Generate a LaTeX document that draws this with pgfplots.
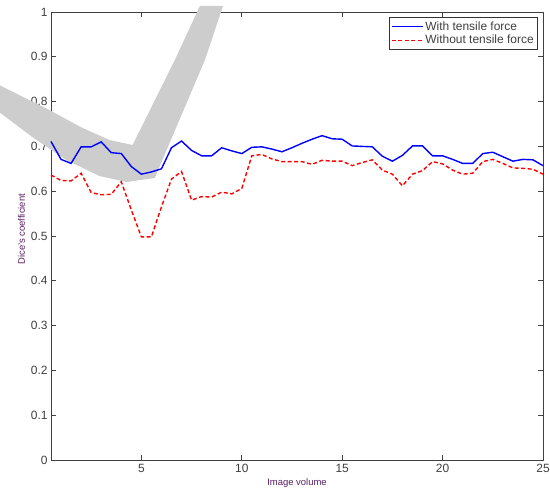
\documentclass[border=0pt]{standalone}
\usepackage{fontspec}
\setmainfont{Liberation Sans}
\usepackage{pgfplots}
\pgfplotsset{compat=1.18}
\usepackage{pgfplotstable}
\definecolor{lblcol}{RGB}{90,30,100}
\definecolor{tickcol}{RGB}{64,64,64}
\definecolor{wm}{RGB}{205,205,205}

\pgfplotstableread{
x y
0.5 0.711
1.0 0.671
1.5 0.662
2.0 0.699
2.5 0.699
3.0 0.710
3.5 0.686
4.0 0.684
4.5 0.655
5.0 0.638
5.5 0.643
6.0 0.650
6.5 0.697
7.0 0.712
7.5 0.691
8.0 0.679
8.5 0.679
9.0 0.697
9.5 0.690
10.0 0.684
10.5 0.698
11.0 0.699
11.5 0.694
12.0 0.688
12.5 0.697
13.0 0.707
13.5 0.716
14.0 0.724
14.5 0.717
15.0 0.716
15.5 0.701
16.0 0.700
16.5 0.699
17.0 0.678
17.5 0.667
18.0 0.680
18.5 0.701
19.0 0.701
19.5 0.679
20.0 0.679
20.5 0.671
21.0 0.662
21.5 0.662
22.0 0.684
22.5 0.687
23.0 0.677
23.5 0.667
24.0 0.671
24.5 0.670
25.0 0.657
}\withforce

\pgfplotstableread{
x y
0.5 0.636
1.0 0.624
1.5 0.623
2.0 0.640
2.5 0.597
3.0 0.592
3.5 0.593
4.0 0.621
4.5 0.558
5.0 0.498
5.5 0.498
6.0 0.565
6.5 0.627
7.0 0.644
7.5 0.580
8.0 0.588
8.5 0.587
9.0 0.598
9.5 0.594
10.0 0.606
10.5 0.679
11.0 0.682
11.5 0.672
12.0 0.666
12.5 0.666
13.0 0.666
13.5 0.660
14.0 0.669
14.5 0.667
15.0 0.667
15.5 0.657
16.0 0.664
16.5 0.670
17.0 0.647
17.5 0.638
18.0 0.612
18.5 0.638
19.0 0.646
19.5 0.666
20.0 0.661
20.5 0.647
21.0 0.638
21.5 0.640
22.0 0.666
22.5 0.671
23.0 0.662
23.5 0.652
24.0 0.651
24.5 0.649
25.0 0.638
}\withoutforce

\begin{document}
\begin{tikzpicture}
\begin{axis}[
  name=ax,
  scale only axis,
  width=492bp, height=448bp,
  xmin=0.5, xmax=25, ymin=0, ymax=1,
  xtick={5,10,15,20,25},
  ytick={0,0.1,0.2,0.3,0.4,0.5,0.6,0.7,0.8,0.9,1},
  yticklabels={0,0.1,0.2,0.3,0.4,0.5,0.6,0.7,0.8,0.9,1},
  tick align=inside,
  major tick length=5bp,
  axis line style={draw=black!75, line width=0.8bp},
  every tick/.style={draw=black!75, line width=0.8bp},
  tick label style={font=\fontsize{12}{14}\selectfont, text=tickcol},
  /pgf/number format/assume math mode=true,
  xticklabel style={yshift=-1bp},
  xlabel={Image volume},
  ylabel={Dice's coefficient},
  label style={font=\fontsize{9.5}{11}\selectfont, text=lblcol},
  xlabel style={at={(0.5,0)}, anchor=base, yshift=-25bp},
  ylabel style={at={(0,0.515)}, anchor=base, yshift=26bp},
  clip=false,
  legend style={at={(0.99,0.988)}, anchor=north east, draw=black!80,
    line width=0.8bp,
    font=\fontsize{12}{14}\selectfont, text=tickcol,
    inner xsep=2bp, inner ysep=1bp,
    row sep=-1.5bp,
    nodes={inner xsep=2bp, inner ysep=2.6bp}},
  legend cell align=left,
  legend image code/.code={\draw[#1] (0bp,0bp) -- (31bp,0bp);},
]
\addplot[fill=wm, draw=none, forget plot] coordinates {
(-2.085,0.8371) (0.415,0.78125) (2.065,0.7411) (3.415,0.7143) (4.565,0.7031)
(6.665,0.8929) (7.915,1.0134) (9.065,1.0134) (8.165,0.8929)
(5.665,0.6295) (4.265,0.6205) (2.915,0.6339) (1.265,0.6696)
(-0.435,0.7210) (-2.085,0.7768)} -- cycle;
\addplot[blue, line width=1.4bp] table[x=x,y=y] {\withforce};
\addlegendentry{With tensile force}
\addplot[red, line width=1.4bp, dash pattern=on 4bp off 2.5bp] table[x=x,y=y] {\withoutforce};
\addlegendentry{Without tensile force}
\end{axis}
\pgfresetboundingbox
\path ([xshift=-51bp,yshift=-28bp]ax.south west) rectangle ([xshift=7bp,yshift=12bp]ax.north east);
\end{tikzpicture}
\end{document}
